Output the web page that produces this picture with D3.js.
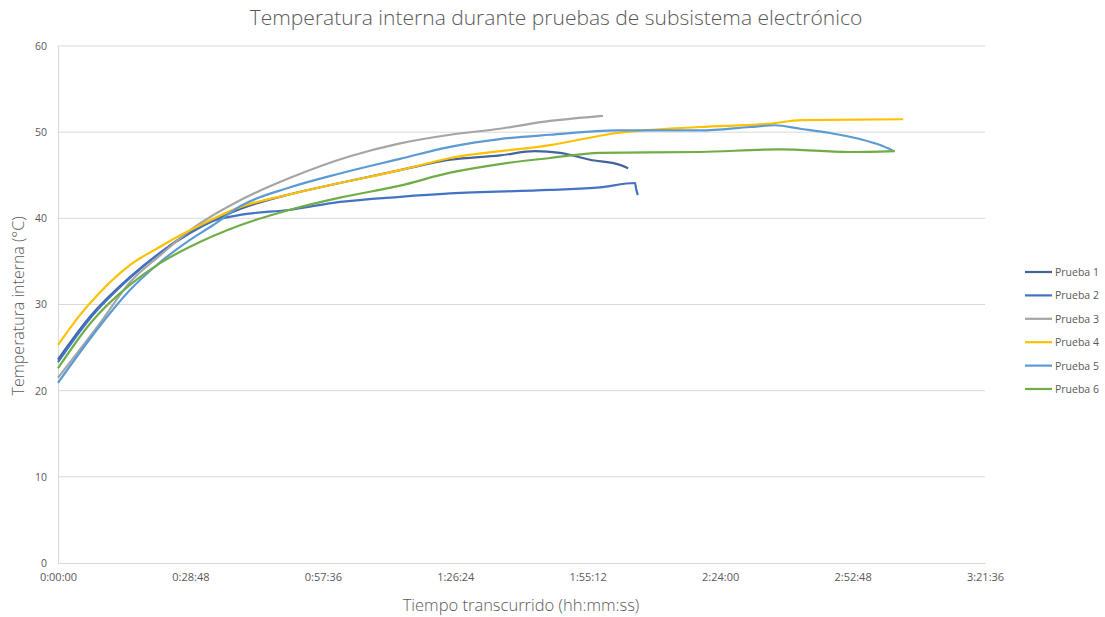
<!DOCTYPE html>
<html>
<head>
<meta charset="utf-8">
<script src="https://cdn.jsdelivr.net/npm/d3@7"></script>
<style>
  body { margin: 0; background: #fff; }
  text { font-family: "Open Sans", "Noto Sans", sans-serif; fill: #595959; }
</style>
</head>
<body>
<svg id="chart" width="1105" height="617"></svg>
<script>
// time in minutes, temperature in °C
const prueba1 = [[0, 23.6], [7.0, 28.6], [15.7, 33.2], [22.2, 36.0], [28.7, 38.3], [39.6, 41.1], [50.5, 42.8], [61.3, 44.1], [74.4, 45.6], [85.3, 46.8], [96.1, 47.3], [103.7, 47.8], [109.2, 47.6], [115.7, 46.8], [122.2, 46.2], [124, 45.8]];
const prueba2 = [[0, 23.3], [7.0, 28.4], [15.7, 33.1], [22.2, 36.0], [28.7, 38.4], [33.7, 39.7], [39.6, 40.4], [50.5, 41.0], [61.3, 41.9], [74.4, 42.5], [85.3, 42.9], [107, 43.3], [117.9, 43.6], [125.5, 44.1], [125.7, 43.5], [126.1, 42.7]];
const prueba3 = [[0, 21.5], [9.1, 27.8], [15.7, 32.6], [22.2, 35.7], [28.7, 38.6], [39.6, 42.1], [50.5, 44.7], [63.5, 47.2], [74.4, 48.7], [85.3, 49.7], [96.1, 50.4], [107, 51.3], [118.5, 51.9]];
const prueba4 = [[0, 25.3], [4.8, 28.8], [9.1, 31.4], [15.7, 34.6], [22.2, 36.7], [26.5, 38.0], [30.9, 39.2], [39.6, 41.3], [50.5, 42.8], [61.3, 44.1], [74.4, 45.6], [85.3, 47.0], [107, 48.5], [121.6, 49.9], [139.6, 50.6], [155.1, 51.0], [161.6, 51.4], [183.8, 51.5]];
const prueba5 = [[0, 20.9], [9.1, 27.5], [15.7, 31.7], [22.2, 34.9], [28.7, 37.5], [33.7, 39.2], [39.6, 41.4], [50.5, 43.6], [61.3, 45.2], [74.4, 46.9], [85.3, 48.3], [96.1, 49.2], [107, 49.7], [121.6, 50.2], [139.6, 50.2], [150.5, 50.6], [155.9, 50.8], [161.4, 50.4], [167.9, 49.9], [174.4, 49.2], [178.8, 48.5], [181.8, 47.8]];
const prueba6 = [[0, 22.6], [7.0, 27.8], [15.7, 32.3], [22.2, 34.8], [28.7, 36.7], [39.6, 39.2], [50.5, 41.0], [61.3, 42.4], [74.4, 43.8], [85.3, 45.3], [96.1, 46.3], [107, 47.0], [117.9, 47.6], [139.6, 47.7], [157, 48.0], [172, 47.7], [182, 47.8]];

const seriesNames = ['Prueba 1', 'Prueba 2', 'Prueba 3', 'Prueba 4', 'Prueba 5', 'Prueba 6'];
const seriesColors = ['#43649E', '#4472C4', '#A5A5A5', '#FFC000', '#5B9BD5', '#70AD47'];
const seriesData = [prueba1, prueba2, prueba3, prueba4, prueba5, prueba6];

const yTicks = [0, 10, 20, 30, 40, 50, 60];
const xTicks = [0, 28.8, 57.6, 86.4, 115.2, 144, 172.8, 201.6];

const svg = d3.select('#chart');
const margin = { left: 58, right: 985, top: 46, bottom: 563 };

const x = d3.scaleLinear([0, 201.6], [margin.left, margin.right]);
const y = d3.scaleLinear([0, 60], [margin.bottom, margin.top]);

const fmtTime = m => {
	const s = Math.round(m * 60);
	const h = Math.floor(s / 3600);
	const mm = Math.floor((s % 3600) / 60);
	const ss = s % 60;
	return `${h}:${String(mm).padStart(2, '0')}:${String(ss).padStart(2, '0')}`;
};

// gridlines
svg.append('g').selectAll('line')
	.data(yTicks.slice(1))
	.join('line')
	.attr('x1', margin.left).attr('x2', margin.right)
	.attr('y1', d => y(d)).attr('y2', d => y(d))
	.style('stroke', '#D9D9D9');

// axes
const xAxis = svg.append('g')
	.attr('transform', `translate(0,${margin.bottom})`)
	.call(d3.axisBottom(x).tickValues(xTicks).tickFormat(fmtTime).tickSize(0).tickPadding(10));
xAxis.select('.domain').style('stroke', '#D9D9D9');
xAxis.selectAll('text').style('font-size', '11px').style('fill', '#595959');

const yAxis = svg.append('g')
	.attr('transform', `translate(${margin.left},0)`)
	.call(d3.axisLeft(y).tickValues(yTicks).tickSize(0).tickPadding(11));
yAxis.select('.domain').style('stroke', '#D9D9D9');
yAxis.selectAll('text').style('font-size', '10.5px').style('fill', '#595959');

// lines
const line = d3.line()
	.x(d => x(d[0]))
	.y(d => y(d[1]))
	.curve(d3.curveMonotoneX);

svg.append('g').selectAll('path')
	.data(seriesData)
	.join('path')
	.attr('d', line)
	.style('fill', 'none')
	.style('stroke', (d, i) => seriesColors[i])
	.style('stroke-width', 2.2)
	.style('stroke-linejoin', 'round');

// titles
svg.append('text')
	.attr('x', 556).attr('y', 25)
	.attr('text-anchor', 'middle')
	.style('font-size', '21px')
	.style('font-weight', 300)
	.text('Temperatura interna durante pruebas de subsistema electrónico');

svg.append('text')
	.attr('x', 521).attr('y', 611)
	.attr('text-anchor', 'middle')
	.style('font-size', '16.5px')
	.style('font-weight', 300)
	.text('Tiempo transcurrido (hh:mm:ss)');

svg.append('text')
	.attr('transform', 'translate(24,306) rotate(-90)')
	.attr('text-anchor', 'middle')
	.style('font-size', '16px')
	.style('font-weight', 300)
	.text('Temperatura interna (°C)');

// legend
const legend = svg.append('g').selectAll('g')
	.data(seriesNames)
	.join('g')
	.attr('transform', (d, i) => `translate(1025,${272 + i * 23.4})`);
legend.append('line')
	.attr('x1', 0).attr('x2', 27)
	.style('stroke', (d, i) => seriesColors[i])
	.style('stroke-width', 2.2);
legend.append('text')
	.attr('x', 30).attr('y', 4)
	.style('font-size', '10.5px')
	.text(d => d);
</script>
</body>
</html>
